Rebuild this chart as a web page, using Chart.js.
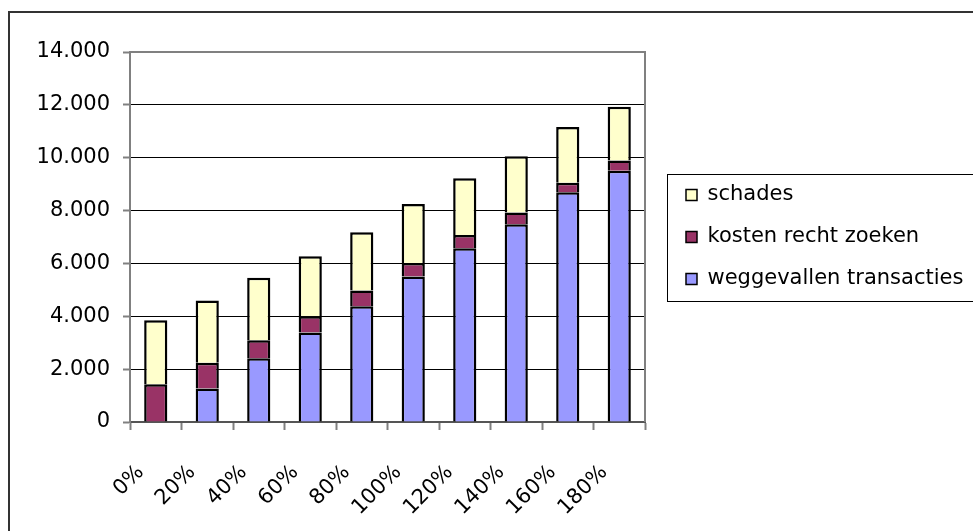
<!DOCTYPE html>
<html>
<head>
<meta charset="utf-8">
<script src="https://cdn.jsdelivr.net/npm/chart.js@4.4.1/dist/chart.umd.min.js"></script>
<style>
  html, body { margin: 0; padding: 0; background: #fff; overflow: hidden; }
  #wrap { width: 973px; height: 531px; }
</style>
</head>
<body>
<div id="wrap"><canvas id="c" width="973" height="531"></canvas></div>
<script>
const categories = ['0%', '20%', '40%', '60%', '80%', '100%', '120%', '140%', '160%', '180%'];
const weggevallenTransacties = [0, 1270, 2410, 3390, 4380, 5510, 6570, 7480, 8690, 9510];
const kostenRechtZoeken = [1430, 970, 680, 610, 600, 510, 510, 450, 360, 380];
const schades = [2420, 2360, 2370, 2270, 2200, 2230, 2140, 2130, 2110, 2040];
const yTickLabels = ['0', '2.000', '4.000', '6.000', '8.000', '10.000', '12.000', '14.000'];

Chart.defaults.font.family = "'DejaVu Sans', sans-serif";
Chart.defaults.font.size = 21;
Chart.defaults.color = '#000';

const frame = {
  id: 'frame',
  beforeDraw(chart) {
    const ctx = chart.ctx;
    ctx.save();
    ctx.fillStyle = '#fff';
    ctx.fillRect(0, 0, chart.width, chart.height);
    ctx.strokeStyle = '#333';
    ctx.lineWidth = 2;
    ctx.strokeRect(9, 12, chart.width + 20, chart.height + 20);
    ctx.restore();
  },
  afterLayout(chart) {
    const lg = chart.legend;
    if (lg) { lg.left += 20; lg.right += 20; }
  },
  beforeDatasetsDraw(chart) {
    const {ctx, chartArea: a} = chart;
    ctx.save();
    ctx.strokeStyle = '#808080';
    ctx.lineWidth = 2;
    ctx.beginPath();
    ctx.moveTo(a.left, a.top);
    ctx.lineTo(a.right, a.top);
    ctx.lineTo(a.right, a.bottom);
    ctx.stroke();
    ctx.restore();
  },
  afterDraw(chart) {
    const lg = chart.legend;
    if (!lg || !lg.legendHitBoxes || !lg.legendHitBoxes.length) return;
    const hb = lg.legendHitBoxes;
    const ctx = chart.ctx;
    const top = hb[0].top - 11;
    const bottom = hb[hb.length - 1].top + hb[hb.length - 1].height + 11;
    const left = hb[0].left - 19;
    ctx.save();
    ctx.strokeStyle = '#000';
    ctx.lineWidth = 1;
    ctx.strokeRect(Math.round(left) + 0.5, Math.round(top) + 0.5, chart.width, Math.round(bottom - top));
    ctx.restore();
  }
};

new Chart(document.getElementById('c'), {
  type: 'bar',
  data: {
    labels: categories,
    datasets: [
      { label: 'weggevallen transacties', data: weggevallenTransacties, backgroundColor: '#9999FF' },
      { label: 'kosten recht zoeken', data: kostenRechtZoeken, backgroundColor: '#993366' },
      { label: 'schades', data: schades, backgroundColor: '#FFFFCC' }
    ]
  },
  options: {
    responsive: false,
    animation: false,
    layout: { padding: { top: 52, left: 0, right: 28, bottom: 0 } },
    datasets: {
      bar: {
        borderColor: '#000',
        borderWidth: { top: 2.5, left: 2.5, right: 2.5, bottom: 0 },
        borderSkipped: false,
        inflateAmount: 0,
        categoryPercentage: 1,
        barPercentage: 0.45
      }
    },
    plugins: {
      tooltip: { enabled: false },
      legend: {
        position: 'right',
        fullSize: false,
        reverse: true,
        maxWidth: 300,
        labels: {
          boxWidth: 11,
          boxHeight: 11,
          padding: 21,
          font: { size: 21 },
          generateLabels(chart) {
            const items = Chart.defaults.plugins.legend.labels.generateLabels(chart);
            items.forEach(it => { it.lineWidth = 1.5; it.strokeStyle = '#000'; });
            return items;
          }
        }
      }
    },
    scales: {
      x: {
        stacked: true,
        afterFit(s) { s.height = 109; },
        grid: {
          offset: true,
          drawOnChartArea: false,
          drawTicks: true,
          tickLength: 8,
          tickColor: '#808080',
          tickWidth: 2
        },
        border: { color: '#555', width: 2 },
        ticks: {
          minRotation: 45,
          maxRotation: 45,
          autoSkip: false,
          padding: 30,
          labelOffset: -15,
          font: { size: 21 }
        }
      },
      y: {
        stacked: true,
        min: 0,
        max: 14000,
        afterFit(s) { s.width = 130; },
        grid: {
          color: '#000',
          lineWidth: 1,
          drawTicks: true,
          tickLength: 7,
          tickColor: '#808080',
          tickWidth: 2
        },
        border: { color: '#808080', width: 2 },
        ticks: {
          stepSize: 2000,
          padding: 13,
          font: { size: 21 },
          callback(v, i) { return yTickLabels[i]; }
        }
      }
    }
  },
  plugins: [frame]
});
</script>
</body>
</html>
